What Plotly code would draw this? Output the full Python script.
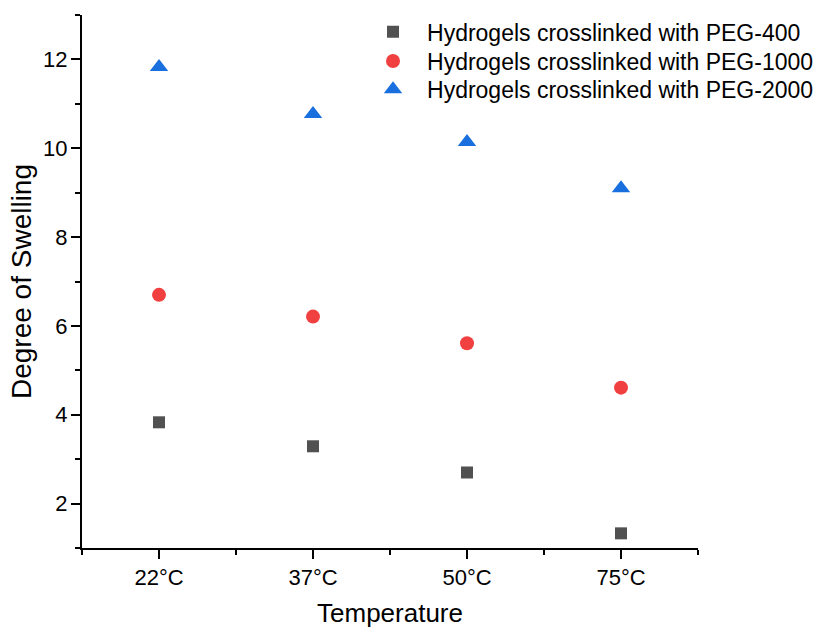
import plotly.graph_objects as go

categories = ["22°C", "37°C", "50°C", "75°C"]
peg400 = [3.83, 3.29, 2.70, 1.33]
peg1000 = [6.70, 6.21, 5.61, 4.61]
peg2000 = [11.83, 10.77, 10.14, 9.10]
series_names = ["Hydrogels crosslinked with PEG-400",
                "Hydrogels crosslinked with PEG-1000",
                "Hydrogels crosslinked with PEG-2000"]

FONT = "Liberation Sans, Arial, sans-serif"
xpos = list(range(len(categories)))

fig = go.Figure()
fig.add_trace(go.Scatter(x=xpos, y=peg400, mode="markers", name=series_names[0],
                         legend="legend",
                         marker=dict(symbol="square", size=12, color="#515151")))
fig.add_trace(go.Scatter(x=xpos, y=peg1000, mode="markers", name=series_names[1],
                         legend="legend2",
                         marker=dict(symbol="circle", size=14, color="#F14040")))
fig.add_trace(go.Scatter(x=xpos, y=peg2000, mode="markers", name=series_names[2],
                         legend="legend3",
                         marker=dict(symbol="triangle-up", size=16, color="#1A6FDF")))

def leg(ypix):
    return dict(x=0.4497, y=(547.7 - ypix) / 532.7, xanchor="left", yanchor="middle",
                font=dict(size=23, family=FONT), bgcolor="rgba(0,0,0,0)",
                itemwidth=58, borderwidth=0)

fig.update_layout(
    width=818, height=628,
    margin=dict(l=82, r=120, t=15, b=80, autoexpand=False),
    plot_bgcolor="white", paper_bgcolor="white",
    font=dict(family=FONT, color="black"),
    showlegend=True,
    legend=leg(31.7), legend2=leg(61), legend3=leg(89.3),
)
fig.update_xaxes(
    range=[-0.5, 3.5], tickmode="array", tickvals=xpos, ticktext=categories,
    showline=True, linecolor="black", linewidth=2, showgrid=False, zeroline=False,
    ticks="outside", ticklen=9, tickwidth=2, tickcolor="black",
    tickfont=dict(size=22, family=FONT), automargin=False,
    minor=dict(tickmode="array", tickvals=[-0.5, 0.5, 1.5, 2.5, 3.5], ticks="outside",
               ticklen=5, tickwidth=2, tickcolor="black", showgrid=False),
    title=dict(text="Temperature", font=dict(size=26, family=FONT), standoff=23),
)
fig.update_yaxes(
    range=[1, 13], tick0=0, dtick=2,
    showline=True, linecolor="black", linewidth=2, showgrid=False, zeroline=False,
    ticks="outside", ticklen=9, tickwidth=2, tickcolor="black",
    tickfont=dict(size=22, family=FONT), automargin=False, ticklabelstandoff=-1,
    minor=dict(tick0=1, dtick=2, ticks="outside", ticklen=5, tickwidth=2,
               tickcolor="black", showgrid=False),
    title=dict(text="Degree of Swelling", font=dict(size=28, family=FONT), standoff=3),
)

fig.write_html("out.html")
